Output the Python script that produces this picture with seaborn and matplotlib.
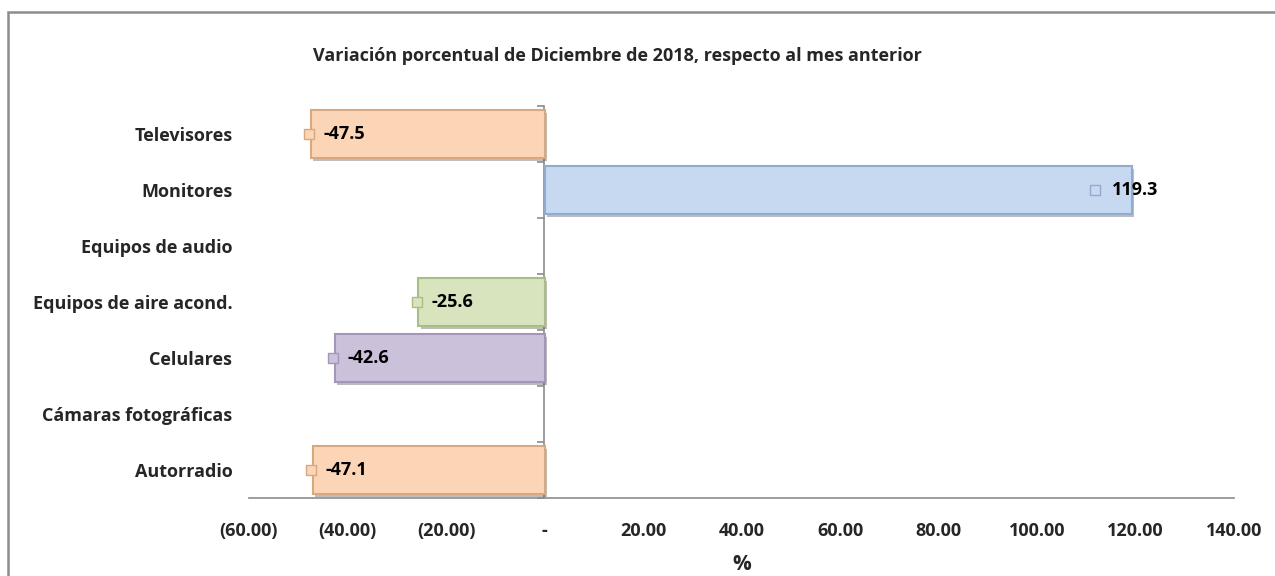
import numpy as np
import pandas as pd
import matplotlib.pyplot as plt
import matplotlib.patheffects as pe
from matplotlib.patches import Rectangle
from matplotlib.ticker import FuncFormatter
import seaborn as sns

categorias = ["Televisores", "Monitores", "Equipos de audio", "Equipos de aire acond.",
              "Celulares", "Cámaras fotográficas", "Autorradio"]
variacion = [-47.5, 119.3, np.nan, -25.6, -42.6, np.nan, -47.1]
colores = ["#FBD5B5", "#C6D9F1", "#FFFFFF", "#D7E4BD", "#CCC1DA", "#FFFFFF", "#FBD5B5"]
bordes = ["#D8A880", "#92AACC", "#FFFFFF", "#A8BE86", "#A496B8", "#FFFFFF", "#D8A880"]
titulo = "Variación porcentual de Diciembre de 2018, respecto al mes anterior"

sns.set_style("white")
plt.rcParams["font.family"] = ["Open Sans", "DejaVu Sans"]
FS = 13

df = pd.DataFrame({"cat": categorias, "val": variacion})

fig = plt.figure(figsize=(12.75, 5.76), dpi=100)
ax = fig.add_axes([249 / 1275, 1 - 498 / 576, (1234 - 249) / 1275, (498 - 106) / 576])

sns.barplot(data=df, x="val", y="cat", hue="cat", palette=colores, legend=False,
            orient="h", width=0.86, saturation=1, ax=ax)

for patch in ax.patches:
    idx = int(round(patch.get_y() + patch.get_height() / 2))
    patch.set_edgecolor(bordes[idx])
    patch.set_linewidth(1.5)
    patch.set_path_effects([pe.SimplePatchShadow(offset=(1.5, -2), alpha=0.35), pe.Normal()])

# etiquetas de datos con su clave de color
for i, (v, c, ec) in enumerate(zip(variacion, colores, bordes)):
    if np.isnan(v):
        continue
    if v < 0:
        kx, tx = v - 0.3, v + 2.6
    else:
        kx, tx = v - 7.5, v - 4.0
    ax.scatter([kx], [i], marker="s", s=45, color=c, edgecolor=ec, linewidth=1, zorder=5)
    ax.text(tx, i, f"{v:.1f}", va="center", ha="left", fontsize=FS,
            fontweight="bold", color="black", zorder=6)

ax.set_xlim(-60, 140)
ax.set_ylim(6.5, -0.5)
ax.set_xticks(np.arange(-60, 141, 20))
ax.xaxis.set_major_formatter(FuncFormatter(
    lambda x, p: "-" if x == 0 else (f"({abs(x):.2f})" if x < 0 else f"{x:.2f}")))
ax.tick_params(axis="x", direction="out", length=6, width=1.2, color="#8C8C8C",
               labelsize=FS, pad=11)
ax.tick_params(axis="y", length=0, labelsize=FS, pad=12)
for lab in ax.get_xticklabels() + ax.get_yticklabels():
    lab.set_fontweight("bold")

for s in ["top", "right", "left"]:
    ax.spines[s].set_visible(False)
ax.spines["bottom"].set_color("#8C8C8C")
ax.spines["bottom"].set_linewidth(1.2)

# eje vertical en cero con marcas entre categorías
sec = ax.secondary_yaxis(0.3)
sec.set_yticks(np.arange(-0.5, 7, 1))
sec.set_yticklabels([])
sec.tick_params(direction="out", length=5, width=1.2, color="#8C8C8C")
sec.spines["left"].set_color("#8C8C8C")
sec.spines["left"].set_linewidth(1.2)

ax.set_ylabel("")
ax.set_xlabel("%", fontsize=FS + 2, fontweight="bold", labelpad=10)

fig.text(617 / 1275, 1 - 56 / 576, titulo, ha="center", va="center",
         fontsize=FS, fontweight="bold")

fig.patches.append(Rectangle((8 / 1275, -0.1), 1.2, 1 - 12 / 576 + 0.1,
                             transform=fig.transFigure, fill=False,
                             edgecolor="#8C8C8C", linewidth=1.8))

fig.savefig("out.png", dpi=100)
